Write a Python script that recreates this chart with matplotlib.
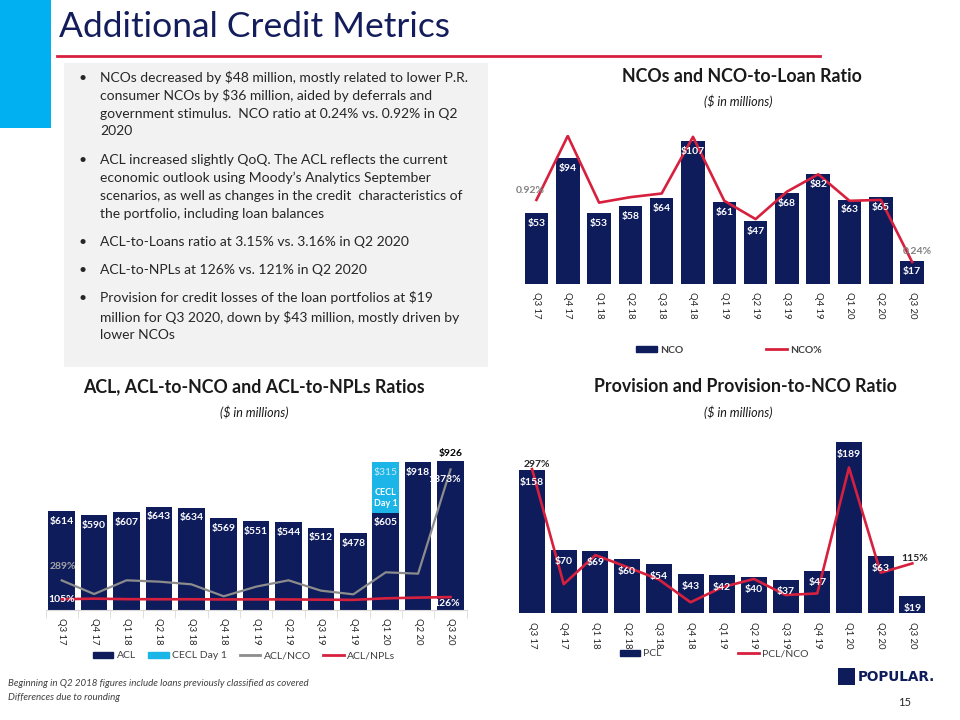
import numpy as np
import matplotlib.pyplot as plt
from matplotlib.patches import Rectangle, Patch
from matplotlib.lines import Line2D

plt.rcParams['font.family'] = ['Lato', 'DejaVu Sans']

quarters = ['Q3 17', 'Q4 17', 'Q1 18', 'Q2 18', 'Q3 18', 'Q4 18', 'Q1 19',
            'Q2 19', 'Q3 19', 'Q4 19', 'Q1 20', 'Q2 20', 'Q3 20']

# NCOs ($ millions) and NCO-to-loan ratio (%)
nco = [53, 94, 53, 58, 64, 107, 61, 47, 68, 82, 63, 65, 17]
nco_ratio = [0.92, 1.62, 0.89, 0.95, 0.99, 1.61, 0.91, 0.71, 1.01, 1.20, 0.91, 0.92, 0.24]

# ACL ($ millions), CECL day 1 adjustment, ratios (%)
acl = [614, 590, 607, 643, 634, 569, 551, 544, 512, 478, 605, 918, 926]
cecl_day1 = [0, 0, 0, 0, 0, 0, 0, 0, 0, 0, 315, 0, 0]
acl_nco = [289, 156, 290, 277, 251, 134, 228, 290, 189, 153, 368, 355, 1373]
acl_npl = [105, 111, 106, 105, 105, 103, 104, 103, 101, 99, 114, 121, 126]

# provision ($ millions) and provision-to-NCO (%)
pcl = [158, 70, 69, 60, 54, 43, 42, 40, 37, 47, 189, 63, 19]
pcl_nco = [297, 75, 131, 108, 84, 40, 69, 85, 54, 57, 300, 97, 115]

bullets = [
    ['NCOs decreased by $48 million, mostly related to lower P.R.',
     'consumer NCOs by $36 million, aided by deferrals and',
     'government stimulus.  NCO ratio at 0.24% vs. 0.92% in Q2',
     '2020'],
    ['ACL increased slightly QoQ. The ACL reflects the current',
     'economic outlook using Moody\u2019s Analytics September',
     'scenarios, as well as changes in the credit  characteristics of',
     'the portfolio, including loan balances'],
    ['ACL-to-Loans ratio at 3.15% vs. 3.16% in Q2 2020'],
    ['ACL-to-NPLs at 126% vs. 121% in Q2 2020'],
    ['Provision for credit losses of the loan portfolios at $19',
     'million for Q3 2020, down by $43 million, mostly driven by',
     'lower NCOs'],
]
bullet_rows = [[78, 96, 114, 131], [160, 178, 196, 214], [242], [270], [298, 317, 335]]

NAVY = '#0f1c5c'
RED = '#d7203d'
CYAN = '#1cb5e8'
GRAY = '#8c8c8c'
TXT = '#262626'

W, H = 960, 720
x = np.arange(len(quarters))


def fx(px):
    return px / W


def fy(py):
    return 1 - py / H


def box(x0, y0, x1, y1):
    return [fx(x0), fy(y1), (x1 - x0) / W, (y1 - y0) / H]


def clean(ax):
    for s in ax.spines.values():
        s.set_visible(False)
    ax.set_yticks([])
    ax.set_xlim(-0.5, len(quarters) - 0.5)


def setup(ax):
    clean(ax)
    ax.set_xticks(x)
    ax.set_xticklabels(quarters, rotation=270, fontsize=6.8, color=TXT)
    ax.tick_params(axis='x', length=0, pad=6)


def lab(ax, text, xy, off, color='white', size=7.5, weight='bold'):
    ax.annotate(text, xy, xytext=off, textcoords='offset pixels', ha='center',
                va='center', color=color, fontsize=size, fontweight=weight, zorder=10)


fig = plt.figure(figsize=(9.6, 7.2), dpi=100)

# header
fig.add_artist(Rectangle((0, fy(128)), fx(51), 128 / H, transform=fig.transFigure,
                         color='#00b0f0', lw=0))
fig.text(fx(59), fy(27), 'Additional Credit Metrics', fontsize=25.5, color='#141d5c',
         va='center')
fig.add_artist(Line2D([fx(57), fx(820)], [fy(56), fy(56)], color=RED, lw=2,
                      transform=fig.transFigure))

# bullet box
fig.add_artist(Rectangle((fx(64), fy(367)), (488 - 64) / W, (367 - 63) / H,
                         transform=fig.transFigure, color='#f2f2f2', lw=0))
for lines, rows in zip(bullets, bullet_rows):
    fig.text(fx(78), fy(rows[0]), '\u2022', fontsize=10, color=TXT, va='center')
    for line, r in zip(lines, rows):
        fig.text(fx(100), fy(r), line, fontsize=10, color=TXT, va='center')

# ---- NCOs chart
fig.text(fx(742), fy(76), 'NCOs and NCO-to-Loan Ratio', fontsize=12.8, fontweight='bold',
         color='#1a1a1a', ha='center', va='center')
fig.text(fx(738), fy(101), '($ in millions)', fontsize=9, style='italic',
         color='#1a1a1a', ha='center', va='center')
ax1 = fig.add_axes(box(520.8, 135, 927.8, 284))
ax1.bar(x, nco, width=0.75, color=NAVY)
ax1.set_ylim(0, 111.5)
setup(ax1)
ax1b = ax1.twinx()
ax1b.plot(x, nco_ratio, color=RED, lw=1.9)
ax1b.set_ylim(0, 1.63)
clean(ax1b)
for i, v in enumerate(nco):
    lab(ax1b, f'${v}', (i, v / 111.5 * 1.63), (0, -10))
lab(ax1b, '0.92%', (0, nco_ratio[0]), (-6, 9), color='#808080')
lab(ax1b, '0.24%', (12, nco_ratio[-1]), (5, 11), color='#808080')
fig.legend([Patch(color=NAVY), Line2D([], [], color=RED, lw=2)], ['NCO', 'NCO%'],
           loc='center', bbox_to_anchor=(fx(729), fy(350)), ncol=2, frameon=False,
           prop={'size': 7.5, 'weight': 'bold'}, labelcolor='#404040',
           handlelength=2.0, handleheight=0.5, handletextpad=0.3, columnspacing=8.0)

# ---- ACL chart
fig.text(fx(254), fy(387), 'ACL, ACL-to-NCO and ACL-to-NPLs Ratios', fontsize=12.8,
         fontweight='bold', color='#1a1a1a', ha='center', va='center')
fig.text(fx(254), fy(412), '($ in millions)', fontsize=9, style='italic',
         color='#1a1a1a', ha='center', va='center')
ax2 = fig.add_axes(box(45.5, 455, 466.7, 610))
ax2.bar(x, acl, width=0.82, color=NAVY)
ax2.bar(x, cecl_day1, width=0.82, bottom=acl, color=CYAN)
ax2.set_ylim(0, 963)
setup(ax2)
ax2.spines['bottom'].set_visible(True)
ax2.spines['bottom'].set_color('#d9d9d9')
ax2.set_xticks(np.arange(-0.5, len(quarters)), minor=True)
ax2.tick_params(axis='x', which='minor', length=6, color='#d9d9d9')
ax2b = ax2.twinx()
ax2b.plot(x, acl_nco, color=GRAY, lw=1.6)
ax2b.plot(x, acl_npl, color=RED, lw=1.9)
ax2b.set_ylim(0, 1514)
clean(ax2b)
k2 = 1514 / 963
for i, v in enumerate(acl):
    if i == len(acl) - 1:
        lab(ax2b, f'${v}', (i, v * k2), (0, 7), color='black')
    else:
        lab(ax2b, f'${v}', (i, v * k2), (0, -10))
    if cecl_day1[i]:
        top = (v + cecl_day1[i]) * k2
        lab(ax2b, f'${cecl_day1[i]}', (i, top), (0, -11), color='#cfe9f7', weight='normal')
        lab(ax2b, 'CECL\nDay 1', (i, top), (0, -36), size=6.5)
lab(ax2b, '289%', (0, acl_nco[0]), (1, 14), color='#a6a6a6')
lab(ax2b, '1373%', (12, acl_nco[-1]), (-6, -10))
lab(ax2b, '105%', (0, acl_npl[0]), (0, 0))
lab(ax2b, '126%', (12, acl_npl[-1]), (-4, -6))
fig.legend([Patch(color=NAVY), Patch(color=CYAN), Line2D([], [], color=GRAY, lw=2),
            Line2D([], [], color=RED, lw=2)],
           ['ACL', 'CECL Day 1', 'ACL/NCO', 'ACL/NPLs'],
           loc='center', bbox_to_anchor=(fx(244), fy(656)), ncol=4, frameon=False,
           prop={'size': 7.5}, labelcolor='#404040',
           handlelength=2.0, handleheight=0.5, handletextpad=0.3, columnspacing=1.2)

# ---- Provision chart
fig.text(fx(745), fy(387), 'Provision and Provision-to-NCO Ratio', fontsize=12.8,
         fontweight='bold', color='#1a1a1a', ha='center', va='center')
fig.text(fx(738), fy(412), '($ in millions)', fontsize=9, style='italic',
         color='#1a1a1a', ha='center', va='center')
ax3 = fig.add_axes(box(516.2, 440, 928.2, 613.3))
ax3.bar(x, pcl, width=0.82, color=NAVY)
ax3.set_ylim(0, 191.5)
setup(ax3)
ax3b = ax3.twinx()
ax3b.plot(x, pcl_nco, color=RED, lw=1.9)
ax3b.set_ylim(18.7, 353.2)
clean(ax3b)
for i, v in enumerate(pcl):
    lab(ax3b, f'${v}', (i, 18.7 + v / 191.5 * 334.5), (0, -12))
lab(ax3b, '297%', (0, pcl_nco[0]), (5, 5), color=TXT)
lab(ax3b, '115%', (12, pcl_nco[-1]), (2, 5), color=TXT)
fig.legend([Patch(color=NAVY), Line2D([], [], color=RED, lw=2)], ['PCL', 'PCL/NCO'],
           loc='center', bbox_to_anchor=(fx(714), fy(654)), ncol=2, frameon=False,
           prop={'size': 7.5}, labelcolor='#404040',
           handlelength=2.0, handleheight=0.5, handletextpad=0.3, columnspacing=7.3)

# footer
fig.text(fx(8), fy(684), 'Beginning in Q2 2018 figures include loans previously classified as covered',
         fontsize=7, style='italic', color='#404040', va='center')
fig.text(fx(8), fy(697), 'Differences due to rounding', fontsize=7, style='italic',
         color='#404040', va='center')
fig.add_artist(Rectangle((fx(838), fy(685)), 17 / W, 17 / H, transform=fig.transFigure,
                         color=NAVY, lw=0))
fig.text(fx(858), fy(677), 'POPULAR.', fontsize=9.8, fontweight='heavy', color=NAVY,
         va='center', family='DejaVu Sans')
fig.text(fx(905), fy(702), '15', fontsize=8, color=TXT, ha='center', va='center')

fig.savefig('out.png', dpi=100)
